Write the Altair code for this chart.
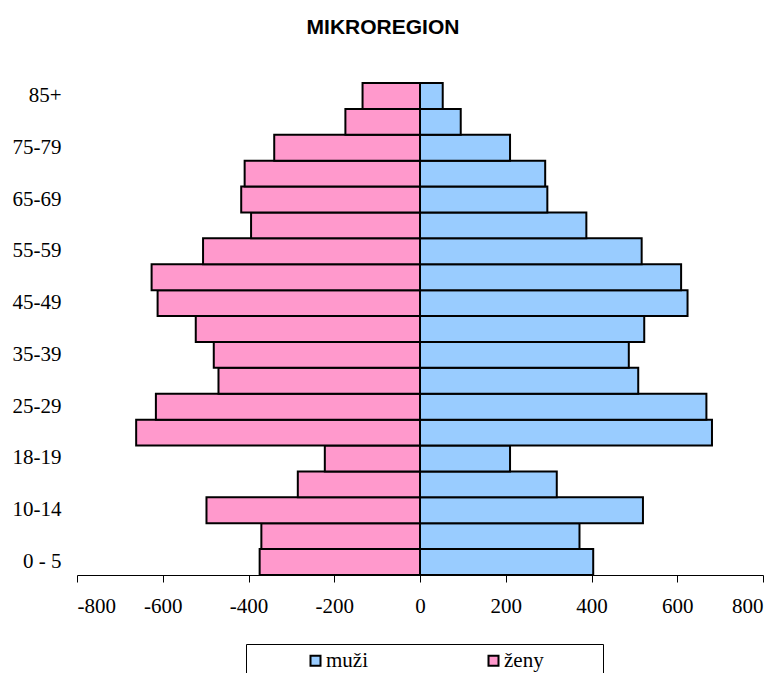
import altair as alt
import pandas as pd

ages = ["0 - 5", "6-9", "10-14", "15-17", "18-19", "20-24", "25-29", "30-34",
        "35-39", "40-44", "45-49", "50-54", "55-59", "60-64", "65-69", "70-74",
        "75-79", "80-84", "85+"]
muzi = [404, 372, 520, 319, 210, 681, 668, 509, 487, 523, 624, 609, 517, 388,
        297, 292, 210, 95, 53]
zeny = [374, 370, 498, 285, 222, 662, 616, 470, 481, 523, 612, 626, 506, 394,
        417, 409, 340, 174, 134]
shown_labels = ["0 - 5", "10-14", "18-19", "25-29", "35-39", "45-49", "55-59",
                "65-69", "75-79", "85+"]
x_ticks = [-800, -600, -400, -200, 0, 200, 400, 600, 800]
series = ["muži", "ženy"]
colors = ["#99ccff", "#ff99cc"]

rows = []
for a, m, z in zip(ages, muzi, zeny):
    rows.append({"age": a, "sex": "muži", "value": m})
    rows.append({"age": a, "sex": "ženy", "value": -z})
df = pd.DataFrame(rows)

serif = "Liberation Serif"

chart = alt.Chart(df).mark_bar(stroke="black", strokeWidth=2).encode(
    x=alt.X("value:Q",
            scale=alt.Scale(domain=[-800, 800], nice=False, zero=False),
            axis=alt.Axis(values=x_ticks, title=None, grid=False,
                          domainColor="black", tickColor="black",
                          tickSize=7, labelPadding=13,
                          labelExpr="'' + datum.value",
                          labelFont=serif, labelFontSize=21,
                          labelColor="black")),
    y=alt.Y("age:N", sort=list(reversed(ages)),
            scale=alt.Scale(paddingInner=0, paddingOuter=0),
            axis=alt.Axis(values=shown_labels, title=None, ticks=False,
                          domain=False, labelPadding=16, labelFont=serif,
                          labelFontSize=21, labelColor="black")),
    color=alt.Color("sex:N",
                    scale=alt.Scale(domain=series, range=colors),
                    legend=alt.Legend(orient="none", legendX=169, legendY=561,
                                      direction="horizontal", title=" ",
                                      titleOrient="right", titlePadding=53,
                                      titleFont=serif, titleFontSize=21,
                                      padding=6, strokeColor="black",
                                      fillColor="white",
                                      symbolOffset=53, columnPadding=62,
                                      symbolType="square", symbolSize=100,
                                      symbolStrokeColor="black",
                                      symbolStrokeWidth=2, symbolOpacity=1,
                                      labelFont=serif, labelFontSize=21,
                                      labelColor="black", labelOffset=0)),
).properties(
    width=686,
    height=492,
    title=alt.TitleParams("MIKROREGION", font="Liberation Sans",
                          fontSize=21, fontWeight="bold", color="black",
                          anchor="middle", offset=27, dx=-37,
                          baseline="alphabetic"),
    autosize=alt.AutoSizeParams(type="none"),
    padding={"left": 69, "top": 75, "right": 8, "bottom": 98},
).configure_view(stroke=None)

chart.save("out.html", embed_options={"renderer": "svg", "actions": False})
